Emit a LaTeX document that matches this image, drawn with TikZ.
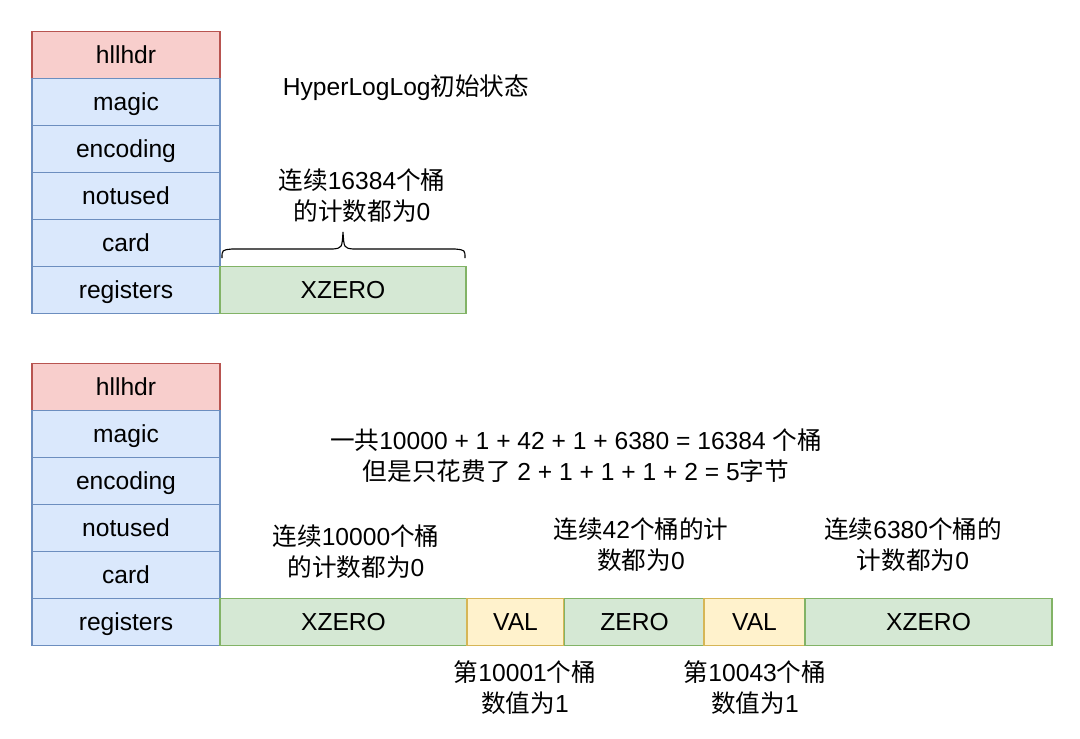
\documentclass[tikz,border=0pt]{standalone}
\usepackage{fontspec}
\setmainfont{Liberation Sans}
\newfontfamily\cjk{Noto Sans CJK SC}
\newcommand{\zh}[1]{{\cjk #1}}
\definecolor{hdrfill}{HTML}{F8CECC}
\definecolor{hdrline}{HTML}{B85450}
\definecolor{fldfill}{HTML}{DAE8FC}
\definecolor{fldline}{HTML}{6C8EBF}
\definecolor{zerofill}{HTML}{D5E8D4}
\definecolor{zeroline}{HTML}{82B366}
\definecolor{valfill}{HTML}{FFF2CC}
\definecolor{valline}{HTML}{D6B656}
\tikzset{
  cell/.style={draw, line width=0.8pt, minimum height=1.175cm, inner sep=0pt,
    text height=15pt, text depth=3pt},
  hdr/.style={cell, minimum width=4.7cm, fill=hdrfill, draw=hdrline},
  fld/.style={cell, minimum width=4.7cm, fill=fldfill, draw=fldline},
  zerobox/.style={cell, fill=zerofill, draw=zeroline},
  valbox/.style={cell, fill=valfill, draw=valline},
  note/.style={align=center, inner sep=0pt}
}
\begin{document}
\begin{tikzpicture}[x=0.025cm,y=-0.025cm,font=\fontsize{17.5}{22}\selectfont]
      \useasboundingbox (0,0) rectangle (1080,738);
      % initial state
      \node[hdr] (hdrA) at (126,55) {hllhdr};
      \node[fld] (magicA) at (126,102) {magic};
      \node[fld] (encA) at (126,149) {encoding};
      \node[fld] (unusedA) at (126,196) {notused};
      \node[fld] (cardA) at (126,243) {card};
      \node[fld] (regA) at (126,290) {registers};
      \node[zerobox, minimum width=6.15cm] (xzeroA) at (343,290) {XZERO};
      \node[note] (titleA) at (406,88) {HyperLogLog\zh{初始状态}};
      \node[note] (runA) at (362,196) {\zh{连续}16384\zh{个桶}\\\zh{的计数都为}0};
      \draw[line width=0.8pt] (222,258) .. controls (222,250) .. (232,249) -- (333,249)
        .. controls (342,248) .. (343,232) .. controls (344,248) .. (353,249) -- (455,249)
        .. controls (465,250) .. (465,258);
      % after adding
      \node[hdr] (hdrB) at (126,387) {hllhdr};
      \node[fld] (magicB) at (126,434) {magic};
      \node[fld] (encB) at (126,481) {encoding};
      \node[fld] (unusedB) at (126,528) {notused};
      \node[fld] (cardB) at (126,575) {card};
      \node[fld] (regB) at (126,622) {registers};
      \node[zerobox, minimum width=6.175cm] (xzeroB) at (343.5,622) {XZERO};
      \node[valbox, minimum width=2.425cm] (valB) at (515.5,622) {VAL};
      \node[zerobox, minimum width=3.5cm] (zeroB) at (634.5,622) {ZERO};
      \node[valbox, minimum width=2.525cm] (valC) at (754.5,622) {VAL};
      \node[zerobox, minimum width=6.175cm] (xzeroC) at (928.5,622) {XZERO};
      \node[note] (sumB) at (576,456) {\zh{一共}10000 + 1 + 42 + 1 + 6380 = 16384 \zh{个桶}\\\zh{但是只花费了} 2 + 1 + 1 + 1 + 2 = 5\zh{字节}};
      \node[note] (runB) at (356,552) {\zh{连续}10000\zh{个桶}\\\zh{的计数都为}0};
      \node[note] (runC) at (641,545) {\zh{连续}42\zh{个桶的计}\\\zh{数都为}0};
      \node[note] (runD) at (913,545) {\zh{连续}6380\zh{个桶的}\\\zh{计数都为}0};
      \node[note] (oneB) at (525,688) {\zh{第}10001\zh{个桶}\\\zh{数值为}1};
      \node[note] (oneC) at (755,688) {\zh{第}10043\zh{个桶}\\\zh{数值为}1};
    \end{tikzpicture}
\end{document}
